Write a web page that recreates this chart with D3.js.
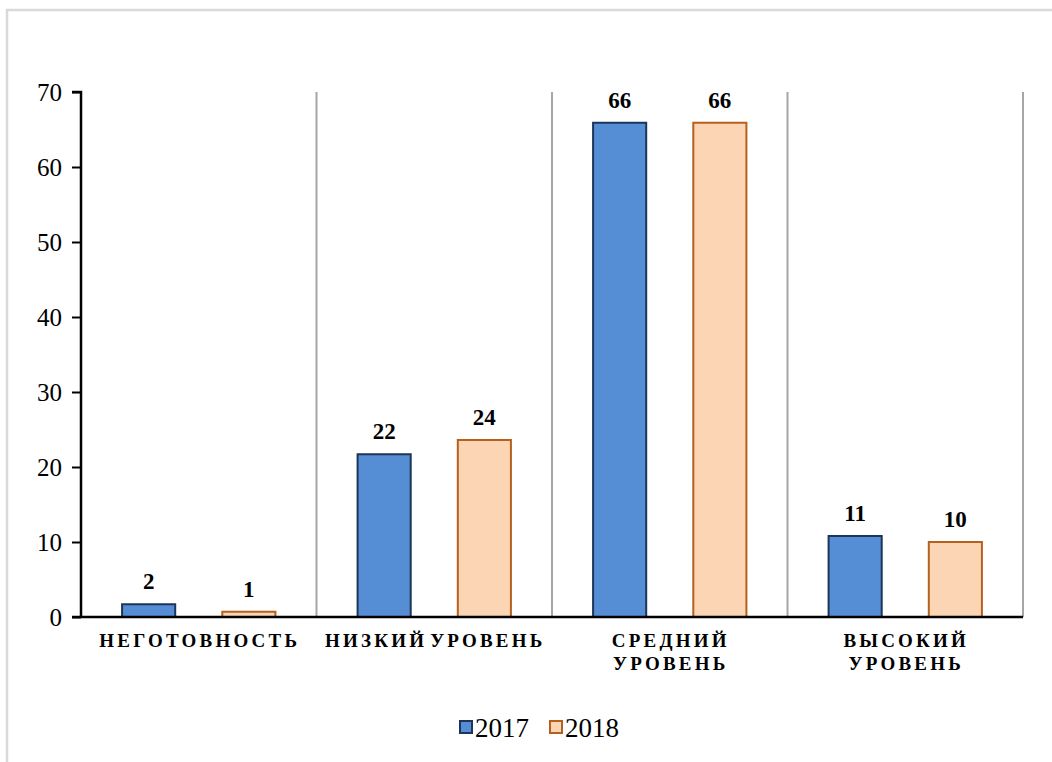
<!DOCTYPE html>
<html>
<head>
<meta charset="utf-8">
<script src="https://cdn.jsdelivr.net/npm/d3@7"></script>
<style>
  html, body { margin: 0; padding: 0; background: #fff; }
  svg { display: block; }
  text { font-family: "Liberation Serif", "Times New Roman", serif; fill: #000; }
</style>
</head>
<body>
<div id="svganchor"></div>
<script>
// chart data
let categories = [["НЕГОТОВНОСТЬ"], ["НИЗКИЙ УРОВЕНЬ"], ["СРЕДНИЙ", "УРОВЕНЬ"], ["ВЫСОКИЙ", "УРОВЕНЬ"]];
let years = ["2017", "2018"];
let series2017 = [1.7, 21.7, 65.9, 10.8];
let series2018 = [0.7, 23.6, 65.9, 10.0];
let yTicks = [0, 10, 20, 30, 40, 50, 60, 70];

let width = 1052;
let height = 762;
let margin = { top: 92, right: 29, bottom: 145, left: 81 };

let colors = { "2017": { fill: "#558ed5", stroke: "#1c3558" }, "2018": { fill: "#fcd5b5", stroke: "#b5601f" } };

let svg = d3.select("#svganchor").append("svg").attr("width", width).attr("height", height);

// outer chart border
svg.append("rect")
  .attr("x", 7).attr("y", 10)
  .attr("width", width + 20).attr("height", height + 20)
  .attr("fill", "none")
  .attr("stroke", "#d9d9d9")
  .attr("stroke-width", 2.5);

let catIndex = d3.range(categories.length);
let x0 = d3.scaleBand().domain(catIndex).range([margin.left, width - margin.right]);
let x1 = d3.scaleBand().domain(years).range([0, x0.bandwidth()]).paddingInner(0.47).paddingOuter(0.41);
let y = d3.scaleLinear().domain([0, 70]).range([height - margin.bottom, margin.top]);

// vertical separators between categories
svg.selectAll(".vertical-line")
  .data(catIndex)
  .enter()
  .append("line")
  .attr("class", "vertical-line")
  .attr("x1", d => x0(d) + x0.bandwidth())
  .attr("x2", d => x0(d) + x0.bandwidth())
  .attr("y1", y(70))
  .attr("y2", y(0))
  .attr("stroke", "#a6a6a6")
  .attr("stroke-width", 2);

// bars
let rows = catIndex.map(i => ({ i: i, values: [{ year: "2017", v: series2017[i] }, { year: "2018", v: series2018[i] }] }));

let groups = svg.selectAll(".cat")
  .data(rows)
  .enter()
  .append("g")
  .attr("class", "cat")
  .attr("transform", d => "translate(" + x0(d.i) + ",0)");

groups.selectAll("rect")
  .data(d => d.values)
  .enter()
  .append("rect")
  .attr("x", d => x1(d.year))
  .attr("y", d => y(d.v))
  .attr("width", x1.bandwidth())
  .attr("height", d => y(0) - y(d.v))
  .attr("fill", d => colors[d.year].fill)
  .attr("stroke", d => colors[d.year].stroke)
  .attr("stroke-width", 2);

groups.selectAll(".value")
  .data(d => d.values)
  .enter()
  .append("text")
  .attr("class", "value")
  .attr("x", d => x1(d.year) + x1.bandwidth() / 2)
  .attr("y", d => y(d.v) - 15)
  .attr("text-anchor", "middle")
  .style("font-size", "23px")
  .style("font-weight", "bold")
  .text(d => d3.format(".0f")(d.v));

// y axis
let yAxis = d3.axisLeft(y).tickValues(yTicks).tickSize(9).tickPadding(10).tickFormat(d3.format("d"));
let gy = svg.append("g").attr("transform", "translate(" + margin.left + ",0)").call(yAxis);
gy.attr("font-family", null).attr("font-size", null);
gy.select(".domain").attr("stroke", "#000").attr("stroke-width", 2.5).attr("d", "M-9," + y(70) + "H0V" + y(0));
gy.selectAll(".tick line").attr("stroke", "#000").attr("stroke-width", 2);
gy.selectAll(".tick text").style("font-size", "25px").attr("fill", "#000");

// x axis line
svg.append("line")
  .attr("x1", margin.left - 9)
  .attr("x2", width - margin.right)
  .attr("y1", y(0))
  .attr("y2", y(0))
  .attr("stroke", "#000")
  .attr("stroke-width", 2.5);

// category labels
let labels = svg.selectAll(".cat-label")
  .data(catIndex)
  .enter()
  .append("text")
  .attr("class", "cat-label")
  .attr("text-anchor", "middle")
  .style("font-size", "19px")
  .style("font-weight", "bold")
  .style("letter-spacing", "3.2px")
  .style("word-spacing", "-5px");

labels.selectAll("tspan")
  .data(d => categories[d].map(t => ({ t: t, i: d })))
  .enter()
  .append("tspan")
  .attr("x", d => x0(d.i) + x0.bandwidth() / 2 + 1)
  .attr("y", (d, k) => y(0) + 30 + k * 23)
  .text(d => d.t);

// legend
let legend = svg.append("g").attr("transform", "translate(460,721)");
let items = legend.selectAll(".legend-item")
  .data(years)
  .enter()
  .append("g")
  .attr("class", "legend-item")
  .attr("transform", (d, i) => "translate(" + i * 90 + ",0)");

items.append("rect")
  .attr("width", 12).attr("height", 12)
  .attr("fill", d => colors[d].fill)
  .attr("stroke", d => colors[d].stroke)
  .attr("stroke-width", 2);

items.append("text")
  .attr("x", 15)
  .attr("y", 16)
  .style("font-size", "27px")
  .text(d => d);
</script>
</body>
</html>
